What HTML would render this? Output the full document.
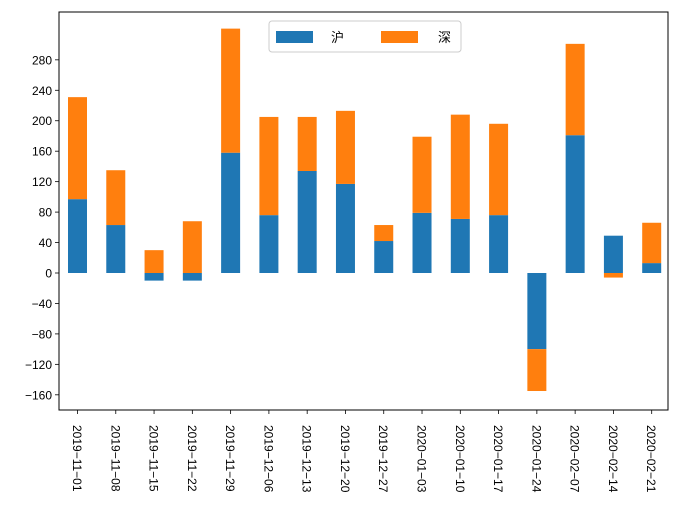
<!DOCTYPE html>
<html><head><meta charset="utf-8"><style>
html,body{margin:0;padding:0;background:#fff;}
svg{display:block;font-family:"Liberation Sans","Noto Sans CJK SC",sans-serif;}
</style></head><body>
<svg id="chart" width="678" height="528" xmlns="http://www.w3.org/2000/svg"></svg>
<script>
const categories = ["2019-11-01","2019-11-08","2019-11-15","2019-11-22","2019-11-29","2019-12-06","2019-12-13","2019-12-20","2019-12-27","2020-01-03","2020-01-10","2020-01-17","2020-01-24","2020-02-07","2020-02-14","2020-02-21"];
const huValues = [97,63,-10,-10,158,76,134,117,42,79,71,76,-100,181,49,13];
const shenValues = [134,72,30,68,163,129,71,96,21,100,137,120,-55,120,-6,53];
const yTicks = [-160,-120,-80,-40,0,40,80,120,160,200,240,280];
const seriesNames = ["沪","深"];
const colors = ["#1f77b4","#ff7f0e"];

const svg = document.getElementById('chart');
const NS = "http://www.w3.org/2000/svg";
const L=59, R=668, T=12, B=410;
const y0px=273, pxPerUnit=0.7613;
function yScale(v){return y0px - v*pxPerUnit;}
const step=38.28, x0=77.5, bw=19;
function xScale(i){return x0 + i*step;}
function mk(tag, attrs){const e=document.createElementNS(NS,tag);for(const k in attrs)e.setAttribute(k,attrs[k]);svg.appendChild(e);return e;}

const series=[huValues, shenValues];
const posAcc=categories.map(()=>0), negAcc=categories.map(()=>0);
series.forEach((vals,s)=>{
  vals.forEach((v,i)=>{
    let base = v>=0 ? posAcc[i] : negAcc[i];
    let top = base+v;
    if(v>=0) posAcc[i]=top; else negAcc[i]=top;
    const ya=yScale(base), yb=yScale(top);
    const r=mk('rect',{x:xScale(i)-bw/2,y:Math.min(ya,yb),width:bw,height:Math.abs(ya-yb),fill:colors[s]});
    
    
  });
});

const fr=mk('rect',{x:L,y:T,width:R-L,height:B-T,fill:'none',stroke:'#000','stroke-width':1});



yTicks.forEach(t=>{
  const y=yScale(t);
  mk('line',{x1:L-4,x2:L,y1:y,y2:y,stroke:'#000','stroke-width':0.8});
  const tx=mk('text',{x:L-7,y:y+4.5,'text-anchor':'end','font-size':12,fill:'#000'});
  tx.textContent=(t<0?'−'+(-t):t);
  
  
});
categories.forEach((c,i)=>{
  const x=xScale(i);
  mk('line',{x1:x,x2:x,y1:B,y2:B+4,stroke:'#000','stroke-width':0.8});
  const tx=mk('text',{x:0,y:0,'font-size':12,fill:'#000',transform:`translate(${x-4.5},${B+15}) rotate(90)`});
  tx.textContent=c.replace(/-/g,'−');
  
  
});

const lg=mk('rect',{x:269,y:21,width:192,height:31,rx:3,fill:'#fff','fill-opacity':0.8,stroke:'#ccc'});


[[276,331],[381,438]].forEach((p,s)=>{
  const sw=mk('rect',{x:p[0],y:31,width:37,height:12,fill:colors[s]});
  
  
  const t=mk('text',{x:p[1],y:42,'font-size':13,fill:'#000'});
  t.textContent=seriesNames[s];
  
  
});
</script>
</body></html>
